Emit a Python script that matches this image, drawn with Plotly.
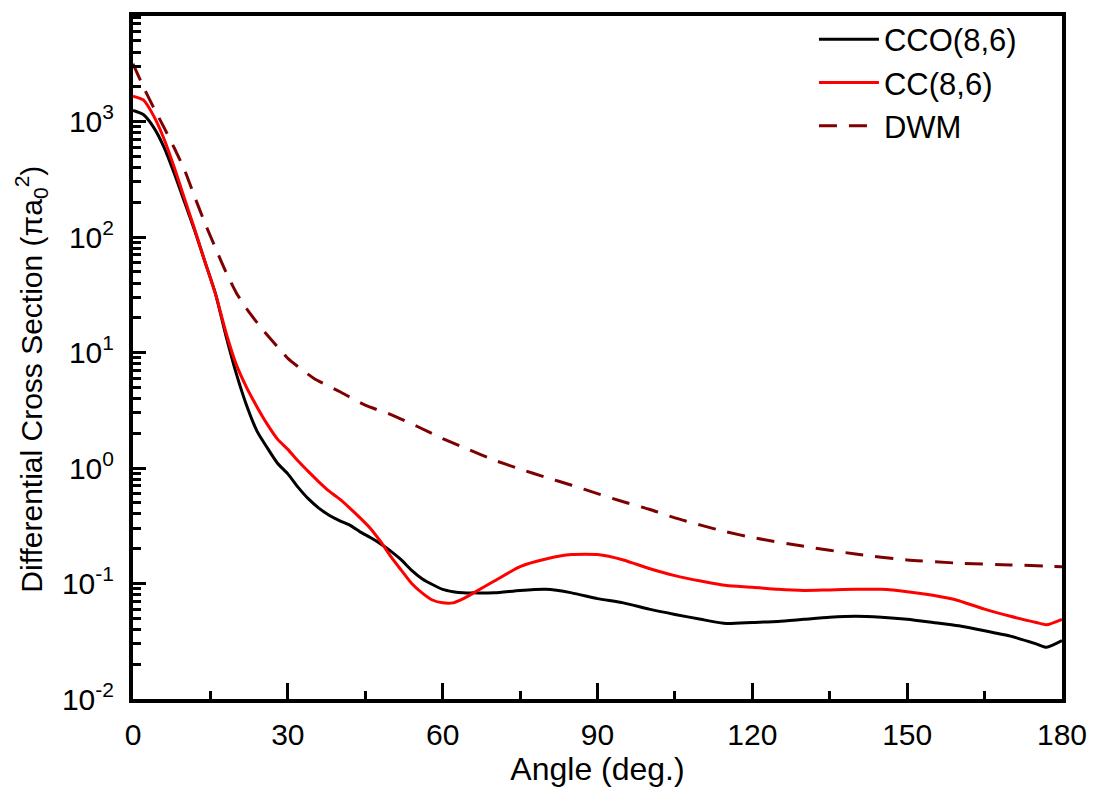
import plotly.graph_objects as go

angle_cco = [0, 2, 4, 6, 8, 10, 12, 14, 16, 18, 20, 22, 24, 26, 28, 30, 32, 34, 36, 38, 40,
             42, 44, 46, 48, 50, 52, 54, 56, 58, 60, 62, 64, 66, 70, 75, 80, 85, 90, 95, 100,
             105, 110, 115, 120, 125, 130, 135, 140, 145, 150, 155, 160, 165, 170, 175, 177, 180]
cco = [1250, 1150, 890, 600, 355, 200, 112, 60, 32, 14, 6.6, 3.5, 2.1, 1.5, 1.1, 0.89, 0.68,
       0.54, 0.45, 0.39, 0.35, 0.32, 0.28, 0.25, 0.22, 0.19, 0.16, 0.13, 0.11, 0.098, 0.089,
       0.085, 0.083, 0.083, 0.083, 0.087, 0.089, 0.083, 0.074, 0.068, 0.060, 0.054, 0.049,
       0.045, 0.046, 0.047, 0.049, 0.051, 0.052, 0.051, 0.049, 0.046, 0.043, 0.039, 0.035,
       0.030, 0.028, 0.032]

angle_cc = angle_cco
cc = [1660, 1540, 1120, 710, 400, 214, 115, 60, 32, 15, 7.9, 5.0, 3.4, 2.4, 1.78, 1.45, 1.15,
      0.93, 0.76, 0.63, 0.54, 0.45, 0.37, 0.30, 0.23, 0.17, 0.13, 0.10, 0.083, 0.072, 0.068,
      0.068, 0.074, 0.083, 0.105, 0.14, 0.163, 0.178, 0.178, 0.16, 0.135, 0.117, 0.105, 0.096,
      0.093, 0.089, 0.087, 0.088, 0.089, 0.089, 0.085, 0.079, 0.071, 0.060, 0.052, 0.046,
      0.044, 0.049]

angle_dwm = [0, 2, 4, 6, 8, 10, 12, 14, 16, 18, 20, 22, 25, 28, 30, 35, 40, 45, 50, 55, 60, 65,
             70, 75, 80, 85, 90, 95, 100, 105, 110, 115, 120, 130, 140, 150, 160, 170, 180]
dwm = [3160, 2000, 1320, 890, 590, 380, 220, 130, 80, 50, 33, 24, 16, 11.2, 8.9, 6.0, 4.6, 3.5,
       2.9, 2.3, 1.8, 1.45, 1.17, 0.98, 0.83, 0.71, 0.60, 0.51, 0.44, 0.37, 0.32, 0.28, 0.25,
       0.21, 0.18, 0.16, 0.15, 0.145, 0.14]

x_ticks = [0, 30, 60, 90, 120, 150, 180]
y_tickvals = [0.01, 0.1, 1, 10, 100, 1000]
y_ticktext = ["10<sup>-2</sup>", "10<sup>-1</sup>", "10<sup>0</sup>",
              "10<sup>1</sup>", "10<sup>2</sup>", "10<sup>3</sup>"]

FONT = "Liberation Sans, Arial, sans-serif"

fig = go.Figure()
fig.add_trace(go.Scatter(x=angle_cco, y=cco, mode="lines", name="CCO(8,6)",
                         line=dict(color="black", width=3, shape="spline", smoothing=0.6)))
fig.add_trace(go.Scatter(x=angle_cc, y=cc, mode="lines", name="CC(8,6)",
                         line=dict(color="#ff0000", width=3, shape="spline", smoothing=0.6)))
fig.add_trace(go.Scatter(x=angle_dwm, y=dwm, mode="lines", name="DWM",
                         line=dict(color="#7f0000", width=3, dash="18px,12px",
                                   shape="spline", smoothing=0.6)))

fig.update_layout(
    width=1099, height=794,
    margin=dict(l=133, r=31, t=12, b=95),
    paper_bgcolor="white", plot_bgcolor="white",
    font=dict(family=FONT, size=30, color="black"),
    showlegend=True,
    legend=dict(x=0.733, y=1.005, xanchor="left", yanchor="top",
                bgcolor="rgba(0,0,0,0)", font=dict(size=31), tracegroupgap=0,
                itemwidth=60),
    annotations=[dict(text="Differential Cross Section (πa<sub>0</sub><sup>2</sup>)",
                      textangle=-90, xref="paper", yref="paper",
                      x=-0.11, y=(794 - 95 - 377) / 687, xanchor="center", yanchor="middle",
                      showarrow=False, font=dict(size=30))],
)
fig.update_xaxes(
    range=[0, 180], tickvals=x_ticks, ticks="inside", ticklen=16, tickwidth=3,
    tickcolor="black", showline=True, linewidth=4, linecolor="black", mirror=True,
    showgrid=False, zeroline=False, ticklabelstandoff=6,
    minor=dict(dtick=15, ticks="inside", ticklen=8, tickwidth=3, tickcolor="black"),
    title=dict(text="Angle (deg.)", font=dict(size=32), standoff=2),
)
fig.update_yaxes(
    type="log", range=[-2, 3.914], tickvals=y_tickvals, ticktext=y_ticktext,
    ticks="inside", ticklen=13, tickwidth=3, tickcolor="black",
    showline=True, linewidth=4, linecolor="black", mirror=True,
    showgrid=False, zeroline=False, ticklabelstandoff=9,
    minor=dict(ticks="inside", ticklen=8, tickwidth=3, tickcolor="black",
               tickvals=[m * 10 ** e for e in range(-2, 4) for m in range(2, 10)]),
)

fig.write_html("out.html")
